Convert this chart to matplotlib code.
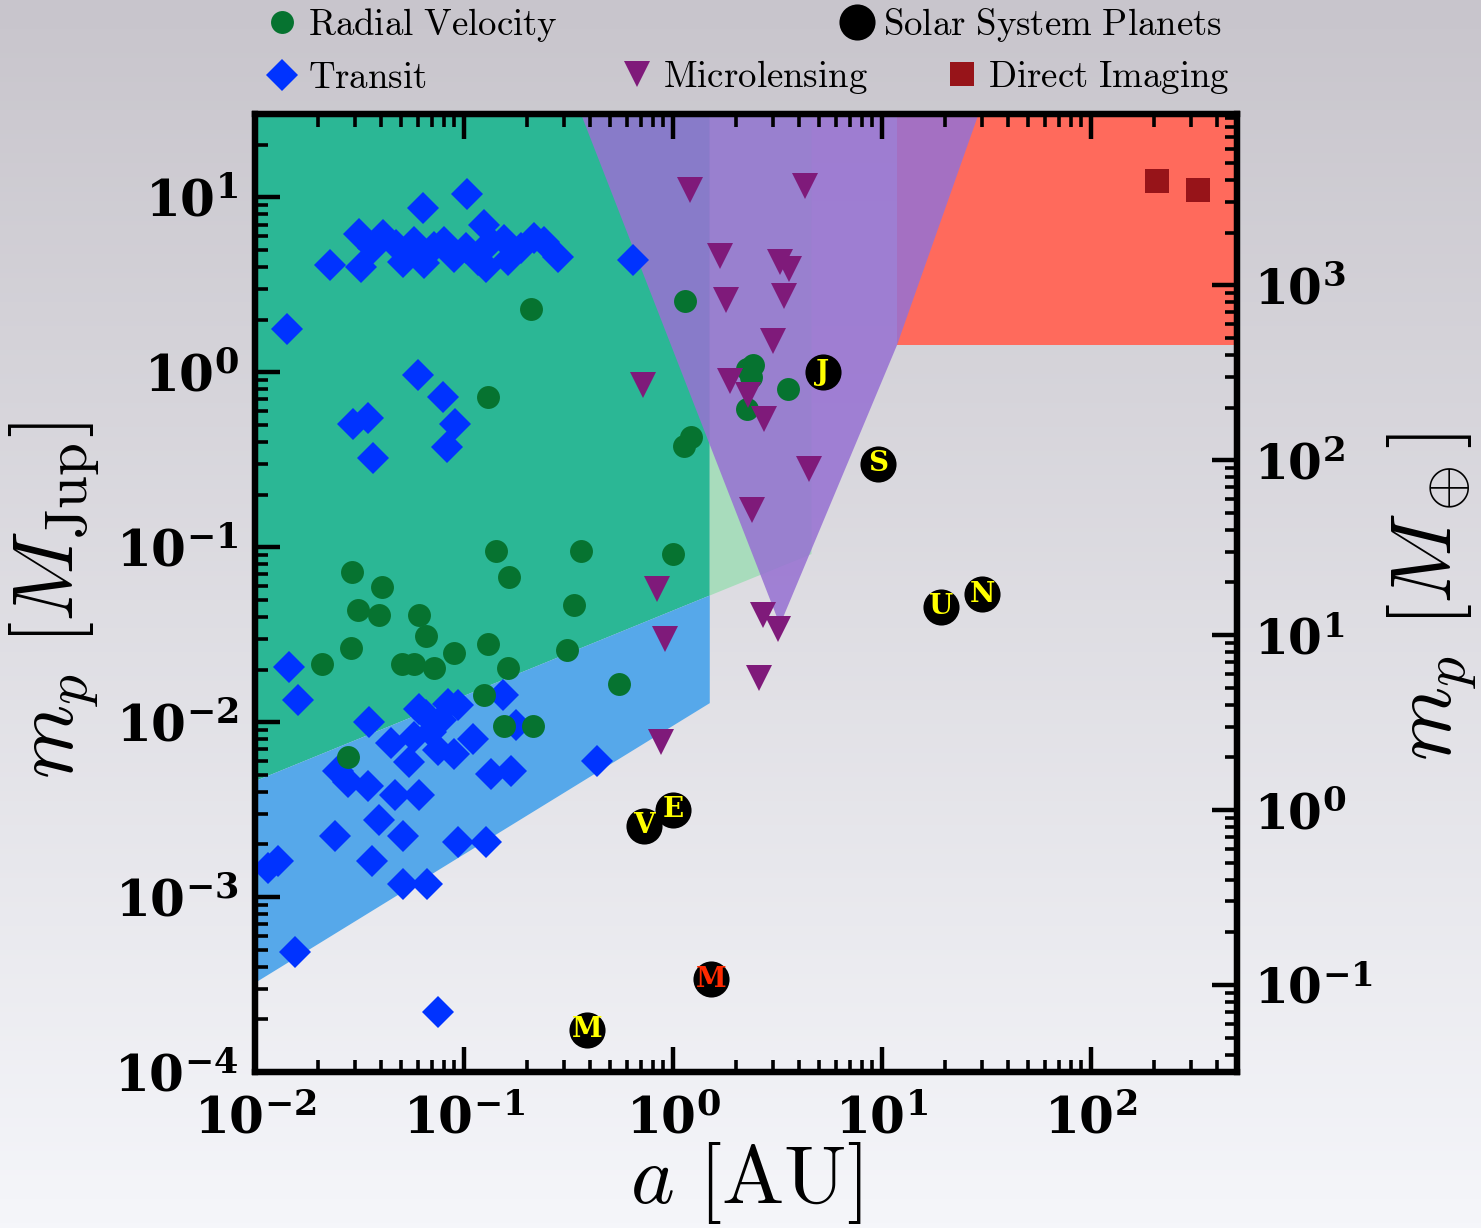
import numpy as np
import matplotlib.pyplot as plt
from matplotlib.ticker import FuncFormatter, LogLocator
from matplotlib.font_manager import FontProperties

plt.rcParams['mathtext.fontset'] = 'dejavuserif'

# ---- detected planets: semi-major axis [AU], mass [M_Jup] ----
rv_a = [0.21, 0.13, 1.14, 1.13, 1.22, 0.142, 0.363, 1.0, 0.164, 0.029,
        0.0405, 0.031, 0.039, 0.061, 0.336, 0.066, 0.0288, 0.13, 0.021, 0.0505,
        0.0576, 0.072, 0.09, 0.163, 0.31, 0.55, 0.125, 0.155, 0.214, 0.028,
        2.26, 2.42, 2.36, 2.26, 3.55]
rv_m = [2.3, 0.72, 2.55, 0.38, 0.425, 0.095, 0.095, 0.092, 0.068, 0.072,
        0.059, 0.044, 0.041, 0.041, 0.047, 0.031, 0.0265, 0.028, 0.0214, 0.0214,
        0.0214, 0.0204, 0.0248, 0.0204, 0.026, 0.0165, 0.0143, 0.0095, 0.0095, 0.0063,
        1.05, 1.1, 0.94, 0.62, 0.80]

tr_a = [0.0229, 0.0321, 0.0315, 0.041, 0.0367, 0.0511, 0.0576, 0.0644, 0.0802, 0.0895,
        0.0637, 0.1033, 0.1247, 0.1167, 0.1274, 0.1345, 0.155, 0.1625, 0.1875, 0.2163,
        0.2415, 0.282, 0.644, 0.01422, 0.102, 0.0718, 0.0473,
        0.0603, 0.0794, 0.0906, 0.083, 0.0294, 0.0347, 0.0367,
        0.01455, 0.0161, 0.0351, 0.061, 0.0838, 0.0935, 0.1537, 0.1775, 0.0448, 0.0576,
        0.0695, 0.0751, 0.0895, 0.1104, 0.0545, 0.0249, 0.0279, 0.0347, 0.0468, 0.061,
        0.1345, 0.168, 0.0392, 0.0242, 0.0511, 0.0935, 0.1274, 0.0129, 0.01153, 0.0363,
        0.0511, 0.0665, 0.0155, 0.0751, 0.4326, 0.0658, 0.0776]
tr_m = [4.09, 3.98, 6.22, 6.07, 5.11, 4.25, 5.53, 4.2, 5.53, 4.54,
        8.65, 10.5, 6.92, 4.37, 3.98, 5.53, 5.68, 4.37, 5.11, 5.83,
        5.53, 4.54, 4.37, 1.78, 5.11, 5.18, 5.32,
        0.96, 0.72, 0.51, 0.373, 0.51, 0.546, 0.323,
        0.0206, 0.0134, 0.01, 0.01187, 0.01268, 0.0125, 0.01426, 0.00961, 0.00759, 0.0082,
        0.00877, 0.00692, 0.00656, 0.008, 0.0059, 0.00525, 0.00454, 0.00431, 0.00383, 0.00383,
        0.00505, 0.00525, 0.00275, 0.00223, 0.00223, 0.00206, 0.00206, 0.00161, 0.00147, 0.00161,
        0.00119, 0.00119, 4.85e-4, 2.2e-4, 0.00598, 0.011, 0.0103]

ml_a = [1.2, 4.3, 1.68, 3.25, 3.6, 1.8, 3.4, 3.0, 0.72, 1.87,
        2.29, 2.72, 4.5, 2.4, 0.84, 2.7, 3.18, 0.92, 2.58, 0.88]
ml_m = [11.0, 11.7, 4.6, 4.25, 3.9, 2.6, 2.75, 1.52, 0.85, 0.89,
        0.74, 0.54, 0.28, 0.163, 0.058, 0.041, 0.034, 0.030, 0.0178, 0.0077]

di_a = [207, 325]
di_m = [12.5, 10.96]

# solar system planets
ss_a = [0.387, 0.723, 1.0, 1.524, 5.2, 9.58, 19.2, 30.1]
ss_m = [1.74e-4, 2.56e-3, 3.15e-3, 3.38e-4, 1.0, 0.3, 0.0457, 0.054]
ss_lbl = ['M', 'V', 'E', 'M', 'J', 'S', 'U', 'N']
ss_txt = ['#ffff00', '#ffff00', '#ffff00', '#ff2a00', '#ffff00', '#ffff00', '#ffff00', '#ffff00']

# sensitivity regions (outline vertices)
rv_zone_a = [0.01, 1.5, 1.5, 0.01]
rv_zone_m = [30, 30, 0.053, 0.0046]
rv_far_a = [1.5, 4.6, 4.6, 1.5]
rv_far_m = [30, 30, 0.0914, 0.053]
tr_zone_a = [0.01, 1.5, 1.5, 0.01]
tr_zone_m = [0.0046, 0.053, 0.01285, 3.23e-4]
di_zone_a = [11.8, 500, 500, 11.8]
di_zone_m = [30, 30, 1.43, 1.43]
ml_zone_a = [0.363, 29, 11.8, 3.25]
ml_zone_m = [30, 30, 1.43, 0.036]

MJUP_MEARTH = 317.8
W, H = 1481, 1228

fig = plt.figure(figsize=(W / 100, H / 100), dpi=100)

# grey gradient backdrop
bg = fig.add_axes([0, 0, 1, 1], zorder=-5)
t = np.linspace(0, 1, 256)[:, None, None]
c_top = np.array([200, 197, 204]) / 255
c_bot = np.array([245, 246, 250]) / 255
bg.imshow(c_top + (c_bot - c_top) * t, aspect='auto', extent=[0, 1, 0, 1])
bg.axis('off')

ax = fig.add_axes([255 / W, 1 - 1072 / H, 982 / W, 958 / H])
ax.set_facecolor('none')
ax.set_axisbelow(False)
ax.set_xscale('log')
ax.set_yscale('log')
ax.set_xlim(0.01, 500)
ax.set_ylim(1e-4, 30)

ax.fill(rv_zone_a, rv_zone_m, color='#2bb795', lw=0, zorder=1)
ax.fill(rv_far_a, rv_far_m, color='#a8dcbc', lw=0, zorder=1)
ax.fill(tr_zone_a, tr_zone_m, color='#56a8ea', lw=0, zorder=1)
ax.fill(di_zone_a, di_zone_m, color='#ff6a5c', lw=0, zorder=1)
ax.fill(ml_zone_a, ml_zone_m, color='#9772d2', alpha=0.87, lw=0, zorder=2)

h_tr, = ax.plot(tr_a, tr_m, 'D', ls='none', ms=16, color='#0033ff', mew=0, zorder=3)
h_rv, = ax.plot(rv_a, rv_m, 'o', ls='none', ms=16.5, color='#067330', mew=0, zorder=4)
h_ml, = ax.plot(ml_a, ml_m, 'v', ls='none', ms=18.5, color='#7f1a7a', mew=0, zorder=5)
h_di, = ax.plot(di_a, di_m, 's', ls='none', ms=17.5, color='#971419', mew=0, zorder=5)

for a, m, s, c in zip(ss_a, ss_m, ss_lbl, ss_txt):
    h_ss, = ax.plot(a, m, 'o', ms=26, color='black', mew=0, zorder=6)
    ax.text(a, m, s, color=c, ha='center', va='center', fontsize=20,
            family='DejaVu Serif', weight='bold', zorder=7)

# axes styling
def pow10(v, pos):
    return r'$\mathbf{10^{%d}}$' % int(round(np.log10(v)))

for s in ax.spines.values():
    s.set_linewidth(4.5)

ax.xaxis.set_major_locator(LogLocator(base=10, numticks=20))
ax.xaxis.set_minor_locator(LogLocator(base=10, subs=np.arange(2, 10), numticks=20))
ax.yaxis.set_major_locator(LogLocator(base=10, numticks=20))
ax.yaxis.set_minor_locator(LogLocator(base=10, subs=np.arange(2, 10), numticks=20))
ax.xaxis.set_major_formatter(FuncFormatter(pow10))
ax.yaxis.set_major_formatter(FuncFormatter(pow10))
ax.tick_params(which='both', direction='in', top=True, right=False)
ax.tick_params(which='major', length=18, width=3.2, labelsize=36)
ax.tick_params(axis='y', which='major', pad=12)
ax.tick_params(axis='x', which='major', pad=16)
ax.tick_params(which='minor', length=9, width=2.6)

ax2 = ax.twinx()
ax2.set_yscale('log')
ax2.set_ylim(1e-4 * MJUP_MEARTH, 30 * MJUP_MEARTH)
ax2.yaxis.set_major_locator(LogLocator(base=10, numticks=20))
ax2.yaxis.set_minor_locator(LogLocator(base=10, subs=np.arange(2, 10), numticks=20))
ax2.yaxis.set_major_formatter(FuncFormatter(pow10))
ax2.tick_params(which='both', direction='in', right=True, left=False)
ax2.tick_params(which='major', length=18, width=3.2, labelsize=35, pad=12)
ax2.tick_params(which='minor', length=9, width=2.6)
for s in ax2.spines.values():
    s.set_linewidth(4.5)

fig.text(55 / W, 1 - 600 / H, r'$m_p\ [M_{\rm Jup}]$', rotation=90,
         fontsize=61, ha='center', va='center', math_fontfamily='cm')
fig.text(1432 / W, 1 - 597 / H, r'$m_p\ [M_\oplus]$', rotation=90,
         fontsize=61, ha='center', va='center', math_fontfamily='cm')
fig.text(746 / W, 1 - 1183 / H, r'$a\ [\mathrm{AU}]$',
         fontsize=60, ha='center', va='center', math_fontfamily='cm')

# legend entries placed one by one above the axes
leg_font = FontProperties(size=26.5, math_fontfamily='cm')
entries = [(h_rv, r'$\mathrm{Radial\ Velocity}$', 269, 25),
           (h_ss, r'$\mathrm{Solar\ System\ Planets}$', 844, 25),
           (h_tr, r'$\mathrm{Transit}$', 269, 77),
           (h_ml, r'$\mathrm{Microlensing}$', 624, 77),
           (h_di, r'$\mathrm{Direct\ Imaging}$', 949, 77)]
for h, lbl, px, py in entries:
    fig.legend([h], [lbl], loc='center left', bbox_to_anchor=(px / W, 1 - py / H),
               frameon=False, prop=leg_font, handlelength=0.72, handletextpad=0.35,
               borderpad=0, borderaxespad=0, numpoints=1)

fig.savefig('out.png', dpi=100)
